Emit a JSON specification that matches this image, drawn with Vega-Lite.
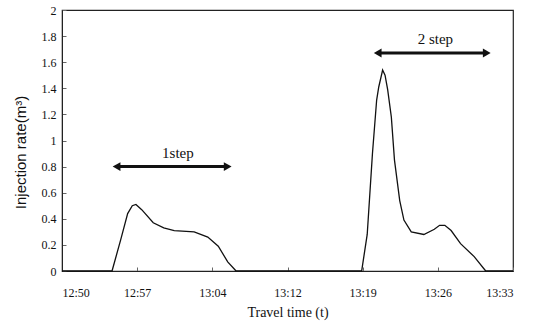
{
  "$schema": "https://vega.github.io/schema/vega-lite/v6.json",
  "width": 451,
  "height": 261,
  "autosize": "none",
  "padding": {"left": 62, "top": 10, "right": 27, "bottom": 60},
  "background": "white",
  "config": {
    "view": {"stroke": "#222", "strokeWidth": 1.2},
    "font": "Liberation Serif",
    "axis": {"labelFont": "Liberation Serif", "titleFont": "Liberation Serif", "labelColor": "#111", "titleColor": "#111", "titleFontWeight": "normal", "grid": false, "domainColor": "#222", "tickColor": "#666", "labelFontSize": 12, "titleFontSize": 14}
  },
  "datasets": {
    "curve": [
      {"t": 0, "q": 0},
      {"t": 4.77, "q": 0},
      {"t": 5.6, "q": 0.24},
      {"t": 6.26, "q": 0.44},
      {"t": 6.7, "q": 0.50},
      {"t": 7.05, "q": 0.51},
      {"t": 7.6, "q": 0.47},
      {"t": 8.7, "q": 0.37},
      {"t": 9.7, "q": 0.33},
      {"t": 10.7, "q": 0.31},
      {"t": 12.6, "q": 0.30},
      {"t": 13.9, "q": 0.26},
      {"t": 14.9, "q": 0.19},
      {"t": 15.8, "q": 0.07},
      {"t": 16.6, "q": 0},
      {"t": 28.57, "q": 0},
      {"t": 29.1, "q": 0.28},
      {"t": 29.6, "q": 0.90},
      {"t": 30.0, "q": 1.31},
      {"t": 30.2, "q": 1.41},
      {"t": 30.57, "q": 1.54},
      {"t": 30.8, "q": 1.50},
      {"t": 31.05, "q": 1.39},
      {"t": 31.4, "q": 1.18},
      {"t": 31.7, "q": 0.85},
      {"t": 32.2, "q": 0.54},
      {"t": 32.6, "q": 0.39},
      {"t": 33.3, "q": 0.30},
      {"t": 34.5, "q": 0.28},
      {"t": 35.5, "q": 0.32},
      {"t": 36.0, "q": 0.35},
      {"t": 36.5, "q": 0.35},
      {"t": 37.1, "q": 0.31},
      {"t": 38.0, "q": 0.21},
      {"t": 39.3, "q": 0.11},
      {"t": 40.4, "q": 0},
      {"t": 43, "q": 0}
    ],
    "arrows": [
      {"t1": 5.3, "t2": 15.7, "y": 0.8, "label": "1step", "tm": 11.05, "ly": 0.905},
      {"t1": 30.2, "t2": 40.4, "y": 1.67, "label": "2 step", "tm": 35.6, "ly": 1.775}
    ],
    "heads": [
      {"t": 5.2, "y": 0.8, "dir": "triangle-left"},
      {"t": 15.8, "y": 0.8, "dir": "triangle-right"},
      {"t": 30.1, "y": 1.67, "dir": "triangle-left"},
      {"t": 40.5, "y": 1.67, "dir": "triangle-right"}
    ]
  },
  "layer": [
    {
      "data": {"name": "curve"},
      "mark": {"type": "line", "color": "#111", "strokeWidth": 1.3, "interpolate": "linear"},
      "encoding": {
        "x": {
          "field": "t", "type": "quantitative",
          "scale": {"domain": [0, 43], "nice": false},
          "axis": {
            "title": "Travel time (t)",
            "values": [0, 7.1667, 14.3333, 21.5, 28.6667, 35.8333, 43],
            "tickCount": 20,
            "labelExpr": "['12:50','12:57','13:04','13:12','13:19','13:26','13:33'][round(datum.value/7.1667)]",
            "labelOverlap": false,
            "tickSize": -4,
            "labelPadding": 20,
            "titlePadding": 7
          }
        },
        "y": {
          "field": "q", "type": "quantitative",
          "scale": {"domain": [0, 2], "nice": false},
          "axis": {
            "title": "Injection rate(m³)",
            "titleFont": "Liberation Sans",
            "titleFontSize": 15,
            "titleY": 142,
            "values": [0, 0.2, 0.4, 0.6, 0.8, 1, 1.2, 1.4, 1.6, 1.8, 2],
            "tickCount": 20,
            "format": "~g",
            "labelOverlap": false,
            "tickSize": -4,
            "labelPadding": 10,
            "titlePadding": 13
          }
        }
      }
    },
    {
      "data": {"name": "arrows"},
      "mark": {"type": "rule", "color": "#111", "strokeWidth": 3},
      "encoding": {
        "x": {"field": "t1", "type": "quantitative"},
        "x2": {"field": "t2"},
        "y": {"field": "y", "type": "quantitative"}
      }
    },
    {
      "data": {"name": "heads"},
      "mark": {"type": "point", "filled": true, "color": "#111", "opacity": 1, "size": 80},
      "encoding": {
        "x": {"field": "t", "type": "quantitative"},
        "y": {"field": "y", "type": "quantitative"},
        "shape": {"field": "dir", "type": "nominal", "scale": {"domain": ["triangle-left", "triangle-right"], "range": ["triangle-left", "triangle-right"]}, "legend": null}
      }
    },
    {
      "data": {"name": "arrows"},
      "mark": {"type": "text", "font": "Liberation Serif", "fontSize": 15, "color": "#111", "baseline": "middle"},
      "encoding": {
        "x": {"field": "tm", "type": "quantitative"},
        "y": {"field": "ly", "type": "quantitative"},
        "text": {"field": "label"}
      }
    }
  ]
}
